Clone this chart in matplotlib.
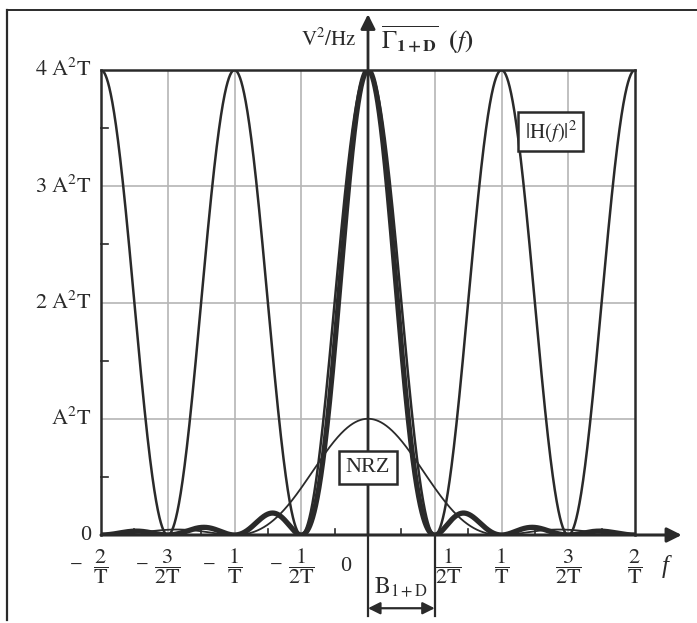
import numpy as np
import matplotlib
matplotlib.use("Agg")
import matplotlib.pyplot as plt
from matplotlib.lines import Line2D

plt.rcParams['font.family'] = ['Liberation Serif', 'DejaVu Serif']
plt.rcParams['mathtext.fontset'] = 'stix'

# ---- data / parameters ----
T = 1.0
H2_peak = 4.0        # |H(f)|^2 peak, in A^2 T
NRZ_peak = 1.0       # NRZ spectrum peak, in A^2 T
f_min, f_max = -2.0, 2.0
y_ticks = [0, 1, 2, 3, 4]
y_tick_labels = ['0', r'$\mathrm{A^2T}$', r'$\mathrm{2\ A^2T}$', r'$\mathrm{3\ A^2T}$', r'$\mathrm{4\ A^2T}$']
x_ticks = [-2.0, -1.5, -1.0, -0.5, 0.0, 0.5, 1.0, 1.5, 2.0]
x_num = ['2', '3', '1', '1', '0', '1', '1', '3', '2']
x_den = ['T', '2T', 'T', '2T', '', '2T', 'T', '2T', 'T']

f = np.linspace(f_min, f_max, 4001)
H2 = H2_peak * np.cos(np.pi * f * T) ** 2
NRZ = NRZ_peak * np.sinc(f * T) ** 2
G = H2 * NRZ

dark = '#2a2a2a'
grid = '#b5b5b5'

fig = plt.figure(figsize=(6.97, 6.23), dpi=100)
ax = fig.add_axes([101/697, 1-535/623, (635-101)/697, (535-70)/623])
ax.set_xlim(f_min, f_max)
ax.set_ylim(0, 4)

# grid
for gx in [-1.5, -1.0, -0.5, 0.5, 1.0, 1.5]:
    ax.axvline(gx, color=grid, lw=1.2, zorder=0)
for gy in [1, 2, 3]:
    ax.axhline(gy, color=grid, lw=1.2, zorder=0)

ax.plot(f, H2, color=dark, lw=1.8, zorder=3)
ax.plot(f, NRZ, color=dark, lw=1.3, zorder=3)
ax.plot(f, G, color=dark, lw=3.8, zorder=4)

for s in ['top', 'left', 'right']:
    ax.spines[s].set_color(dark)
    ax.spines[s].set_linewidth(1.8)
ax.spines['bottom'].set_visible(False)
ax.set_xticks([])
ax.set_yticks([])

# minor inward ticks
for t in [0.5, 1.5, 2.5, 3.5]:
    ax.plot([f_min, f_min + 0.05], [t, t], color=dark, lw=1.2, clip_on=False)
for t in [-1.75, -1.25, -0.75, -0.25, 0.25, 0.75, 1.25, 1.75]:
    ax.plot([t, t], [0, 0.05], color=dark, lw=1.2, clip_on=False)

# axes arrows
ax.annotate('', xy=(2.35, 0), xytext=(f_min, 0),
            arrowprops=dict(arrowstyle='-|>', color=dark, lw=2.2, mutation_scale=22,
                            shrinkA=0, shrinkB=0), annotation_clip=False)
ax.annotate('', xy=(0, 4.48), xytext=(0, 0),
            arrowprops=dict(arrowstyle='-|>', color=dark, lw=2.0, mutation_scale=22,
                            shrinkA=0, shrinkB=0), annotation_clip=False)

# y tick labels
for yv, lab in zip(y_ticks, y_tick_labels):
    ax.text(-2.07, yv, lab, ha='right', va='center', fontsize=16, color=dark)

# x tick labels
for xv, n, d in zip(x_ticks, x_num, x_den):
    if d == '':
        ax.text(-0.17, -0.27, n, ha='center', va='center', fontsize=16, color=dark)
        continue
    xc = xv + (0.1 if xv == 0.5 else 0)
    ax.text(xc, -0.27, r'$\dfrac{\mathrm{%s}}{\mathrm{%s}}$' % (n, d), ha='center', va='center',
            fontsize=16, color=dark)
    if xv < 0:
        ax.text(xc - 0.19, -0.27, '−', ha='center', va='center', fontsize=16, color=dark)

ax.text(2.23, -0.27, 'f', style='italic', ha='center', va='center', fontsize=18, color=dark)

# B_{1+D} dimension
for xv in [0.0, 0.5]:
    ax.plot([xv, xv], [0, -0.7], color=dark, lw=1.6, clip_on=False)
ax.annotate('', xy=(0.5, -0.63), xytext=(0.0, -0.63),
            arrowprops=dict(arrowstyle='<|-|>', color=dark, lw=1.6, mutation_scale=18,
                            shrinkA=0, shrinkB=0), annotation_clip=False)
ax.text(0.25, -0.45, r'$\mathrm{B}_{\mathrm{1+D}}$', ha='center', va='center', fontsize=17, color=dark)

# top labels
ax.text(-0.09, 4.26, r'$\mathrm{V^2/Hz}$', ha='right', va='center', fontsize=15, color=dark)
ax.text(0.1, 4.26, r'$\overline{\Gamma_{\mathbf{1+D}}}\ \ \mathbf{(}\mathit{f}\mathbf{)}$',
        ha='left', va='center', fontsize=18, color=dark)

# boxed labels
box = dict(boxstyle='square,pad=0.3', fc='white', ec=dark, lw=1.8)
ax.text(1.37, 3.47, r'$\mathrm{|H(}\mathit{f}\mathrm{)|^2}$', ha='center', va='center',
        fontsize=15, color=dark, bbox=box, zorder=6)
ax.text(0.0, 0.58, 'NRZ', ha='center', va='center', fontsize=16, color=dark, bbox=box, zorder=6)

# outer frame (left and top borders)
fig.add_artist(Line2D([7/697, 7/697], [3/623, 1-10/623], color=dark, lw=1.6))
fig.add_artist(Line2D([7/697, 1.0], [1-10/623, 1-10/623], color=dark, lw=1.4))

fig.savefig('out.png', dpi=100, facecolor='white')
